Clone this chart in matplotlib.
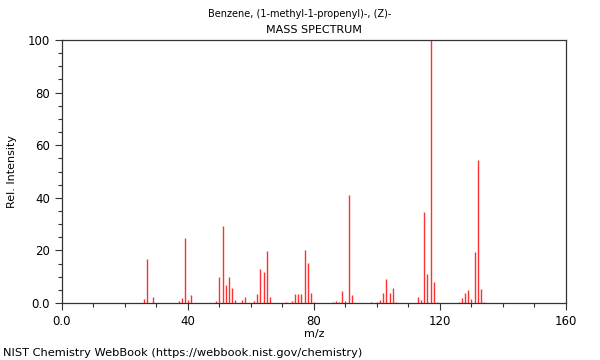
import matplotlib.pyplot as plt
from matplotlib.ticker import MultipleLocator, FuncFormatter

# m/z and relative intensity
mz = [26, 27, 29, 37, 38, 39, 40, 41, 49, 50, 51, 52, 53, 54, 55, 57, 58,
      61, 62, 63, 64, 65, 66, 71, 73, 74, 75, 76, 77, 78, 79, 80, 86, 87,
      88, 89, 90, 91, 92, 98, 100, 101, 102, 103, 104, 105, 106, 113, 114,
      115, 116, 117, 118, 119, 126, 127, 128, 129, 130, 131, 132, 133, 134]
intensity = [1.5, 16.8, 2.3, 0.8, 2.0, 24.8, 1.3, 3.2, 0.7, 10.0, 29.2, 6.7,
             9.9, 5.7, 1.1, 1.3, 2.3, 0.8, 3.5, 13.0, 11.7, 19.8, 2.2, 0.5,
             0.7, 3.3, 3.3, 3.5, 20.2, 15.3, 3.9, 0.3, 0.5, 0.9, 0.5, 4.7,
             0.8, 41.0, 3.0, 0.3, 0.3, 1.1, 3.8, 9.0, 3.8, 5.8, 0.5, 2.5, 1.1,
             34.6, 11.2, 100.0, 8.2, 0.5, 0.6, 2.0, 3.8, 4.9, 1.6, 19.3, 54.2,
             5.4, 0.3]

compound = "Benzene, (1-methyl-1-propenyl)-, (Z)-"
subtitle = "MASS SPECTRUM"
footer = "NIST Chemistry WebBook (https://webbook.nist.gov/chemistry)"

fig = plt.figure(figsize=(6, 3.6), dpi=100)
ax = fig.add_axes([0.1033, 0.158, 0.84, 0.731])

ax.vlines(mz, 0, intensity, colors='#ff3030', linewidth=1.0)

ax.set_xlim(0, 160)
ax.set_ylim(0, 100)

fmt = FuncFormatter(lambda v, p: "0.0" if v == 0 else f"{v:.0f}")
ax.xaxis.set_major_locator(MultipleLocator(40))
ax.xaxis.set_minor_locator(MultipleLocator(10))
ax.yaxis.set_major_locator(MultipleLocator(20))
ax.yaxis.set_minor_locator(MultipleLocator(5))
ax.xaxis.set_major_formatter(fmt)
ax.yaxis.set_major_formatter(fmt)

ax.tick_params(which='major', length=5, width=0.8, color='#333333', labelsize=8.5)
ax.tick_params(which='minor', length=3, width=0.8, color='#333333')
for s in ax.spines.values():
    s.set_color('#333333')
    s.set_linewidth(0.9)

ax.set_xlabel('m/z', fontsize=8)
ax.set_ylabel('Rel. Intensity', fontsize=8)
ax.xaxis.set_label_coords(0.5, -0.097)
ax.yaxis.set_label_coords(-0.089, 0.5)

# compound name centred on the figure, subtitle centred on the axes
fig.text(0.5, 0.962, compound, fontsize=7.0, ha='center', va='center')
ax.text(0.5, 1.038, subtitle, fontsize=8, ha='center', va='center',
        transform=ax.transAxes)

fig.text(0.005, 0.019, footer, fontsize=8.2, ha='left', va='center')

fig.savefig('out.png', dpi=100)
